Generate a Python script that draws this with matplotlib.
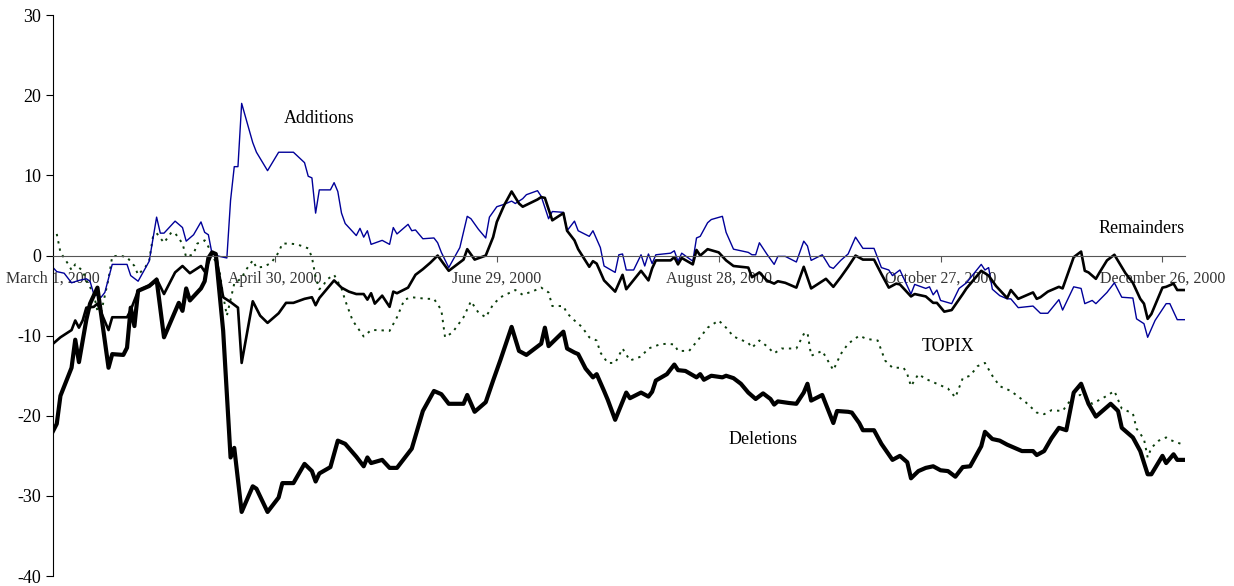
import matplotlib
matplotlib.use("Agg")
import matplotlib.pyplot as plt

# days counted from March 1, 2000; values are cumulative returns (%)
tick_days = [0, 60, 120, 180, 240, 300]
tick_labels = ["March 1, 2000", "April 30, 2000", "June 29, 2000",
               "August 28, 2000", "October 27, 2000", "December 26, 2000"]

add_days = [0, 1, 3, 5, 7, 9, 10, 11, 13, 14, 16, 20, 21, 23, 26, 28, 29, 30, 33, 35,
            36, 38, 40, 41, 42, 43, 45, 47, 48, 49, 50, 51, 54, 55, 58, 61, 65, 68, 69, 70,
            71, 72, 75, 76, 77, 78, 79, 82, 83, 84, 85, 86, 89, 91, 92, 93, 96, 97, 98, 100,
            103, 104, 105, 107, 110, 112, 113, 115, 117, 118, 120, 122, 124, 125, 127, 128, 131, 132, 134, 135,
            138, 139, 141, 142, 145, 146, 148, 149, 152, 153, 154, 155, 157, 159, 160, 161, 162, 163, 167, 168,
            169, 170, 173, 174, 175, 177, 178, 181, 182, 184, 188, 189, 190, 191, 193, 195, 196, 198, 201, 203,
            204, 205, 208, 210, 211, 213, 215, 217, 219, 222, 224, 226, 227, 229, 232, 233, 236, 237, 238, 239,
            240, 243, 245, 247, 251, 252, 253, 254, 256, 258, 259, 261, 265, 267, 269, 272, 273, 276, 278, 279,
            281, 282, 285, 287, 289, 292, 293, 295, 296, 298, 301, 302, 304, 306]
add_vals = [-1.5, -2.0, -2.2, -3.4, -3.1, -2.9, -3.2, -4.8, -5.2, -4.6, -1.1, -1.1, -2.5, -3.2, -0.7, 4.8, 2.8, 2.8, 4.3, 3.5,
            1.8, 2.6, 4.2, 2.9, 2.6, 0.2, -0.1, -0.3, 6.9, 11.1, 11.1, 19.0, 14.1, 12.9, 10.6, 12.9, 12.9, 11.6, 9.9, 9.7,
            5.3, 8.2, 8.2, 9.1, 8.0, 5.3, 4.0, 2.5, 3.4, 2.3, 3.1, 1.4, 1.9, 1.4, 3.5, 2.7, 3.9, 3.1, 3.2, 2.1,
            2.2, 1.6, 0.4, -1.5, 1.0, 4.9, 4.6, 3.3, 2.2, 4.8, 6.1, 6.4, 6.8, 6.5, 7.1, 7.6, 8.1, 7.4, 4.6, 5.5,
            5.4, 3.1, 4.3, 3.1, 2.4, 3.1, 1.0, -1.3, -2.1, 0.1, 0.2, -1.8, -1.8, 0.1, -1.3, 0.2, -1.0, 0.1, 0.3, 0.6,
            -0.7, 0.3, -0.7, 2.2, 2.4, 4.1, 4.5, 4.9, 2.9, 0.8, 0.4, 0.1, 0.1, 1.6, 0.2, -1.1, -0.1, -0.1, -0.8, 1.8,
            1.2, -0.6, 0.1, -1.4, -1.6, -0.6, 0.2, 2.3, 0.9, 0.9, -1.5, -1.8, -2.5, -1.8, -4.8, -3.6, -4.1, -3.9, -4.9, -4.3,
            -5.6, -6.0, -4.1, -3.4, -1.1, -1.8, -1.5, -4.2, -5.0, -5.4, -5.4, -6.5, -6.3, -7.2, -7.2, -5.5, -6.8, -3.9, -4.1, -6.0,
            -5.6, -6.0, -4.6, -3.4, -5.2, -5.3, -7.9, -8.5, -10.2, -8.1, -6.0, -6.0, -8.0, -8.0]

rem_days = [0, 2, 5, 6, 7, 8, 9, 11, 12, 15, 16, 20, 21, 23, 27, 28, 30, 33, 35, 37,
            40, 41, 43, 44, 46, 48, 50, 51, 54, 56, 58, 61, 63, 65, 68, 70, 71, 72, 76, 78,
            80, 82, 84, 85, 86, 87, 89, 91, 92, 93, 96, 98, 100, 102, 104, 107, 111, 112, 114, 117,
            119, 120, 122, 124, 126, 127, 131, 132, 133, 135, 138, 139, 141, 142, 145, 146, 147, 149, 152, 154,
            155, 159, 161, 162, 163, 167, 168, 169, 170, 173, 174, 175, 177, 180, 182, 184, 188, 189, 191, 193,
            195, 196, 198, 201, 203, 205, 209, 211, 213, 215, 217, 219, 222, 224, 226, 228, 229, 232, 233, 236,
            238, 239, 241, 243, 246, 247, 251, 252, 253, 255, 258, 259, 261, 265, 266, 267, 269, 272, 273, 276,
            278, 279, 280, 282, 283, 285, 287, 290, 292, 294, 295, 296, 297, 300, 301, 303, 304, 306]
rem_vals = [-11.0, -10.2, -9.3, -8.1, -9.0, -8.1, -6.5, -6.4, -6.0, -9.3, -7.7, -7.7, -6.8, -4.4, -3.5, -2.9, -4.8, -2.1, -1.3, -2.2,
            -1.3, -2.0, 0.3, 0.2, -5.2, -5.8, -6.5, -13.4, -5.7, -7.5, -8.4, -7.2, -5.9, -5.9, -5.4, -5.2, -6.2, -5.3, -3.1, -4.0,
            -4.5, -4.8, -4.8, -5.5, -4.7, -6.0, -5.0, -6.4, -4.5, -4.7, -4.0, -2.4, -1.7, -0.9, 0.0, -1.9, -0.5, 0.8, -0.5, 0.0,
            2.3, 4.2, 6.3, 8.0, 6.5, 6.1, 7.0, 7.3, 7.2, 4.4, 5.3, 3.1, 1.9, 0.8, -1.4, -0.7, -1.0, -3.1, -4.5, -2.4,
            -4.2, -1.9, -3.1, -1.6, -0.6, -0.6, -0.2, -1.1, -0.3, -1.1, 0.7, 0.0, 0.8, 0.4, -0.6, -1.3, -1.5, -2.7, -2.1, -3.1,
            -3.5, -3.2, -3.4, -4.0, -1.4, -4.1, -2.9, -3.9, -2.7, -1.4, 0.0, -0.5, -0.5, -2.3, -4.0, -3.5, -3.6, -5.1, -4.8, -5.1,
            -5.9, -5.9, -7.0, -6.8, -4.8, -4.1, -1.9, -2.2, -2.5, -3.8, -5.3, -4.3, -5.4, -4.6, -5.4, -5.2, -4.5, -3.9, -4.1, -0.2,
            0.5, -1.9, -2.1, -2.9, -2.1, -0.6, 0.1, -2.2, -3.4, -5.4, -6.0, -7.9, -7.3, -4.0, -3.9, -3.5, -4.3, -4.3]

del_days = [0, 1, 2, 5, 6, 7, 9, 10, 12, 15, 16, 19, 20, 21, 22, 23, 26, 28, 30, 34,
            35, 36, 37, 40, 41, 42, 43, 44, 46, 48, 49, 51, 54, 55, 58, 61, 62, 65, 68, 70,
            71, 72, 75, 77, 79, 82, 84, 85, 86, 89, 91, 93, 95, 97, 100, 103, 105, 107, 111, 112,
            114, 117, 119, 121, 124, 126, 128, 132, 133, 134, 138, 139, 141, 142, 144, 146, 147, 149, 150, 152,
            155, 156, 159, 161, 162, 163, 166, 168, 169, 171, 174, 175, 176, 178, 181, 182, 184, 186, 188, 190,
            192, 194, 195, 196, 199, 201, 203, 204, 205, 208, 211, 212, 215, 216, 218, 219, 222, 224, 227, 229,
            231, 232, 234, 236, 238, 240, 242, 244, 246, 248, 251, 252, 254, 256, 258, 262, 265, 266, 268, 270,
            272, 274, 276, 278, 280, 282, 286, 288, 289, 292, 294, 296, 297, 300, 301, 303, 304, 306]
del_vals = [-21.9, -21.0, -17.5, -14.0, -10.5, -13.3, -8.0, -6.0, -4.0, -14.0, -12.3, -12.4, -11.5, -6.5, -8.8, -4.4, -3.8, -3.0, -10.2, -5.9,
            -6.9, -4.1, -5.6, -4.1, -3.2, -0.3, 0.4, 0.2, -9.4, -25.2, -24.0, -32.0, -28.8, -29.1, -32.0, -30.2, -28.4, -28.4, -26.0, -26.9,
            -28.2, -27.2, -26.4, -23.1, -23.5, -25.1, -26.3, -25.2, -25.9, -25.5, -26.5, -26.5, -25.3, -24.1, -19.4, -16.9, -17.3, -18.5, -18.5, -17.4,
            -19.5, -18.3, -15.6, -13.0, -8.9, -11.9, -12.4, -11.0, -9.0, -11.3, -9.5, -11.6, -12.1, -12.3, -14.1, -15.2, -14.8, -16.9, -18.0, -20.5,
            -17.1, -17.8, -17.1, -17.6, -17.0, -15.6, -14.8, -13.6, -14.3, -14.4, -15.2, -14.8, -15.5, -15.0, -15.2, -15.0, -15.3, -16.0, -17.1, -17.9,
            -17.2, -17.9, -18.6, -18.2, -18.4, -18.5, -17.1, -16.0, -18.1, -17.4, -20.9, -19.4, -19.5, -19.6, -20.9, -21.8, -21.8, -23.5, -25.5, -25.0,
            -25.8, -27.8, -26.9, -26.5, -26.3, -26.8, -26.9, -27.6, -26.4, -26.3, -23.8, -22.0, -22.9, -23.1, -23.6, -24.4, -24.4, -24.9, -24.4, -22.8,
            -21.5, -21.8, -17.1, -16.0, -18.5, -20.1, -18.5, -19.4, -21.5, -22.7, -24.4, -27.3, -27.3, -25.0, -25.9, -24.8, -25.5, -25.5]

topix_days = [1, 2, 4, 5, 6, 8, 9, 11, 12, 13, 14, 15, 16, 18, 20, 22, 23, 25, 26, 27,
              28, 30, 32, 33, 35, 36, 38, 39, 41, 42, 43, 45, 46, 47, 49, 51, 52, 54, 55, 57,
              59, 61, 62, 64, 66, 69, 70, 71, 72, 73, 74, 76, 78, 79, 81, 84, 86, 88, 91, 93,
              95, 97, 101, 103, 105, 106, 108, 111, 113, 115, 117, 119, 121, 125, 127, 130, 132, 134, 135, 138,
              139, 141, 143, 145, 147, 148, 150, 152, 154, 156, 159, 161, 164, 166, 168, 169, 172, 175, 177, 180,
              182, 184, 188, 189, 191, 193, 195, 197, 201, 203, 204, 205, 208, 211, 213, 215, 218, 220, 223, 225,
              227, 230, 231, 232, 234, 236, 239, 242, 244, 246, 248, 250, 252, 254, 256, 259, 263, 266, 268, 270,
              273, 276, 278, 281, 285, 287, 289, 292, 293, 295, 296, 297, 299, 301, 302, 305, 306]
topix_vals = [2.7, 0.4, -1.0, -1.8, -1.1, -1.9, -3.1, -4.8, -6.9, -7.1, -5.0, -2.9, -0.1, 0.0, -0.2, -1.3, -2.4, -1.4, -0.6, 2.3,
              2.8, 1.6, 2.9, 2.8, 1.5, -0.2, 0.2, 1.5, 1.9, 1.1, 0.2, -1.9, -5.0, -7.5, -3.5, -2.8, -1.9, -0.6, -1.5, -1.4,
              -0.9, 0.4, 1.5, 1.5, 1.4, 0.9, -0.2, -2.7, -4.2, -3.8, -3.0, -2.4, -4.1, -5.6, -8.1, -10.1, -9.3, -9.3, -9.4, -7.7,
              -5.5, -5.2, -5.4, -5.4, -6.8, -10.2, -9.6, -7.7, -5.7, -7.1, -7.7, -6.1, -5.2, -4.3, -4.9, -4.4, -4.0, -4.6, -6.3, -6.3,
              -7.2, -8.1, -8.9, -10.2, -10.6, -12.1, -13.4, -13.4, -11.6, -13.1, -12.6, -11.6, -11.1, -11.0, -11.1, -11.9, -11.9, -10.2, -9.0, -8.1,
              -9.0, -10.1, -10.9, -11.5, -10.6, -11.3, -12.2, -11.6, -11.6, -9.8, -9.6, -12.5, -11.9, -14.3, -12.3, -11.0, -10.0, -10.4, -10.6, -13.1,
              -14.0, -14.0, -14.8, -16.3, -14.8, -15.4, -16.0, -16.6, -17.7, -15.3, -15.0, -13.8, -13.4, -15.0, -16.3, -16.9, -18.3, -19.6, -19.8, -19.3,
              -19.4, -17.5, -17.4, -18.5, -17.5, -16.9, -19.1, -19.7, -21.6, -22.9, -25.2, -24.0, -23.1, -22.7, -23.0, -23.5, -23.5]

plt.rcParams['font.family'] = ['Liberation Serif', 'DejaVu Serif']
plt.rcParams['axes.unicode_minus'] = False

fig = plt.figure(figsize=(12.34, 5.86), dpi=100)
ax = fig.add_axes([0.043, 0.017, 0.917, 0.957])

ax.plot(topix_days, topix_vals, color='#0b3d0b', lw=1.4, linestyle=(0, (1.2, 2.6)))
ax.plot(add_days, add_vals, color='#000099', lw=1.0)
ax.plot(rem_days, rem_vals, color='black', lw=1.9)
ax.plot(del_days, del_vals, color='black', lw=3.0)

ax.set_xlim(0, 306)
ax.set_ylim(-40, 30)
ax.set_yticks(range(-40, 31, 10))
ax.set_xticks(tick_days)
ax.set_xticklabels(tick_labels)

ax.spines['top'].set_visible(False)
ax.spines['right'].set_visible(False)
ax.spines['bottom'].set_position(('data', 0))
ax.spines['bottom'].set_color('#555555')
ax.spines['bottom'].set_bounds(0, 306)
ax.tick_params(axis='x', direction='out', length=4, color='#555555', labelsize=11.5, pad=7,
               labelcolor='#333333')
ax.tick_params(axis='y', direction='out', length=5, labelsize=13)

ax.text(72, 17.1, "Additions", fontsize=13, ha='center', va='center')
ax.text(306, 3.4, "Remainders", fontsize=13, ha='right', va='center')
ax.text(242, -11.4, "TOPIX", fontsize=13, ha='center', va='center')
ax.text(192, -22.9, "Deletions", fontsize=13, ha='center', va='center')

fig.savefig("out.png", dpi=100)
